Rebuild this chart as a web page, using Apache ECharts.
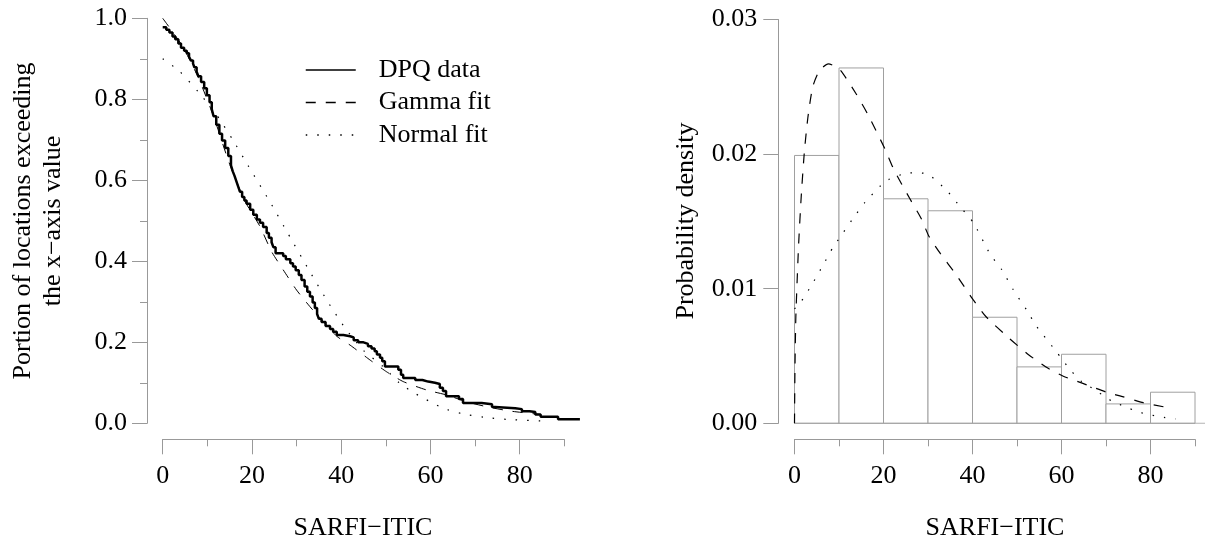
<!DOCTYPE html>
<html><head><meta charset="utf-8">
<script src="https://cdn.jsdelivr.net/npm/echarts@6/dist/echarts.min.js"></script>
<style>html,body{margin:0;padding:0;background:#fff}#c{width:1205px;height:550px}</style>
</head><body><div id="c"></div>
<script>
// ---------- data ----------
const xLabelTicks = [0, 20, 40, 60, 80];

// Left panel: empirical exceedance (step) and fitted survival curves
const dpqX = [0,0.8,1.5,2.2,2.8,3.5,4.1,4.8,5.4,5.9,6.3,6.8,7.1,7.6,8.0,8.6,9.3,9.9,10.5,11.0,11.4,12.0,12.7,13.3,14.0,14.7,15.3,15.7,16.1,16.5,16.9,17.3,17.8,18.3,18.8,19.6,20.3,21.1,21.8,22.5,23.3,23.8,24.4,24.8,25.3,27.0,27.6,28.6,29.2,29.8,30.5,31.1,31.8,32.4,33.0,33.6,34.1,34.6,35.0,35.6,36.5,37.5,38.2,39.0,40.5,42.0,42.8,43.8,45.0,46.0,46.8,47.5,48.0,48.7,49.2,49.8,52.8,53.4,53.9,56.6,58.2,59.5,61.0,62.1,62.8,63.5,66.4,67.3,71.5,73.8,74.5,79.0,80.5,82.2,83.5,84.7,88.6,93.5];
const dpqY = [0.978,0.972,0.965,0.955,0.948,0.938,0.927,0.92,0.914,0.905,0.896,0.888,0.879,0.868,0.857,0.843,0.827,0.81,0.793,0.775,0.758,0.737,0.715,0.698,0.68,0.66,0.637,0.622,0.611,0.598,0.585,0.572,0.559,0.55,0.542,0.527,0.515,0.503,0.495,0.485,0.47,0.458,0.447,0.435,0.42,0.413,0.405,0.395,0.387,0.378,0.366,0.354,0.338,0.325,0.313,0.298,0.285,0.27,0.258,0.25,0.24,0.233,0.226,0.218,0.215,0.212,0.205,0.2,0.196,0.19,0.185,0.178,0.17,0.162,0.153,0.14,0.132,0.12,0.112,0.107,0.103,0.1,0.097,0.088,0.08,0.067,0.06,0.05,0.047,0.04,0.037,0.035,0.03,0.028,0.022,0.016,0.01,0.01];

const gammaSurvX = [0,2,4.5,8,11.4,14.8,18.3,21.8,24.4,27,30,33,36,39,42,46.5,50.2,53.9,59.2,63.6,68.1,73,78,84.5];
const gammaSurvY = [1.0,0.97,0.93,0.853,0.758,0.646,0.551,0.486,0.424,0.379,0.329,0.288,0.251,0.215,0.193,0.156,0.127,0.103,0.082,0.07,0.053,0.04,0.03,0.022];

const normalSurvX = [0,3.7,8,12.3,15.7,19.1,24.4,28,33,37,40.9,45,49.4,53,56.5,62.9,67,71.9,78,84.6];
const normalSurvY = [0.90,0.87,0.818,0.758,0.70,0.637,0.54,0.47,0.374,0.30,0.235,0.18,0.14,0.10,0.074,0.037,0.024,0.015,0.009,0.006];

// Right panel: histogram (density) and fitted densities
const binStart = [0,10,20,30,40,50,60,70,80];
const binEnd   = [10,20,30,40,50,60,70,80,90];
const density  = [0.0199,0.0264,0.01668,0.01579,0.00788,0.00419,0.00513,0.00144,0.00231];

const gammaPdfX = [0,0.1,0.3,0.9,1.5,2.2,3.0,4.1,5.6,7.6,8.6,10.4,13.8,16.4,20.3,22.4,25.9,28.5,30.2,32.8,36.2,40.1,43.1,48.3,52.6,56.9,60.4,64.5,70.2,73.5,78.4,82.9,84.5];
const gammaPdfY = [0,0.004,0.0079,0.0131,0.0168,0.0201,0.0227,0.0250,0.0262,0.0267,0.0266,0.0262,0.0245,0.0230,0.0204,0.0188,0.0167,0.0152,0.0139,0.0126,0.0111,0.0092,0.0079,0.0063,0.0051,0.0041,0.0035,0.0030,0.0023,0.0020,0.00153,0.00123,0.00116];

const normalPdfX = [0,1.2,3.9,6.5,8.7,10.2,12.9,15.8,19.2,21.1,25.6,28,30.1,34.2,37.2,40.2,43.9,46.6,49.2,52.2,54.4,58.9,61.9,64.5,67.6,69.5,71.6,73.9,76.1,78.4,80.9,83.3,85.7];
const normalPdfY = [0.0085,0.0089,0.0103,0.0118,0.0131,0.0138,0.0151,0.0164,0.0176,0.0181,0.0186,0.0186,0.0185,0.0173,0.0161,0.0149,0.0126,0.0114,0.0099,0.0084,0.0072,0.0053,0.0040,0.0031,0.00248,0.00203,0.0016,0.00129,0.00099,0.00074,0.00057,0.00042,0.00032];

// ---------- chart ----------
const FONT = "'Liberation Serif', 'Times New Roman', serif";
const AX = '#999999';
const BAR = '#a0a0a0';
const zip = (a, b) => a.map((v, i) => [v, b[i]]);

// pixel geometry of the two panels
const L = { x0: 162.7, x90: 564.3, top: 18.3, bottom: 423.3 };
const R = { x0: 794.5, x90: 1195, top: 19.5, bottom: 423.3 };
const pxPerUnitL = (L.x90 - L.x0) / 90;
const pxPerUnitR = (R.x90 - R.x0) / 90;

function xAxes(g) {
  return [
    { gridIndex: g, type: 'value', min: 0, max: 90, interval: 10, position: 'bottom', offset: 16,
      axisLine: { show: true, onZero: false, lineStyle: { color: AX, width: 1 } },
      axisTick: { show: true, length: 7, lineStyle: { color: AX, width: 1 } },
      axisLabel: { show: false }, splitLine: { show: false } },
    { gridIndex: g, type: 'value', min: 0, max: 90, position: 'bottom', offset: 16,
      axisLine: { show: false, onZero: false },
      axisTick: { show: true, length: 15, customValues: xLabelTicks, lineStyle: { color: AX, width: 1 } },
      axisLabel: { show: true, customValues: xLabelTicks, margin: 24, color: '#000', fontFamily: FONT, fontSize: 26 },
      splitLine: { show: false } }
  ];
}
const hiddenAxis = (g, max) => ({ gridIndex: g, type: 'value', min: 0, max: max, show: false });

const option = {
  backgroundColor: '#fff',
  animation: false,
  grid: [
    { left: L.x0, right: 1205 - L.x90, top: L.top, bottom: 550 - L.bottom },
    { left: R.x0, right: 1205 - R.x90, top: R.top, bottom: 550 - R.bottom },
    // wider companion grids (same scale) so marks may run past x = 90
    { left: L.x0, width: pxPerUnitL * 100, top: L.top, bottom: 550 - L.bottom },
    { left: R.x0, width: pxPerUnitR * 100, top: R.top, bottom: 550 - R.bottom }
  ],
  xAxis: [...xAxes(0), ...xAxes(1), hiddenAxis(2, 100), hiddenAxis(3, 100)],
  yAxis: [
    { gridIndex: 0, type: 'value', min: 0, max: 1, interval: 0.2, offset: 15.7,
      axisLine: { show: true, onZero: false, lineStyle: { color: AX, width: 1 } },
      axisTick: { show: true, length: 15, lineStyle: { color: AX, width: 1 } },
      minorTick: { show: true, splitNumber: 2, length: 7, lineStyle: { color: AX, width: 1 } },
      axisLabel: { margin: 20, color: '#000', fontFamily: FONT, fontSize: 26, formatter: v => v.toFixed(1) },
      splitLine: { show: false }, minorSplitLine: { show: false } },
    { gridIndex: 1, type: 'value', min: 0, max: 0.03, interval: 0.01, offset: 16.2,
      axisLine: { show: true, onZero: false, lineStyle: { color: AX, width: 1 } },
      axisTick: { show: true, length: 15, lineStyle: { color: AX, width: 1 } },
      axisLabel: { margin: 21, color: '#000', fontFamily: FONT, fontSize: 26, formatter: v => v.toFixed(2) },
      splitLine: { show: false } },
    hiddenAxis(2, 1),
    hiddenAxis(3, 0.03)
  ],
  legend: {
    data: [
      { name: 'DPQ data', lineStyle: { width: 1.5 } },
      { name: 'Gamma fit', lineStyle: { width: 1.3 } },
      { name: 'Normal fit', lineStyle: { width: 1.5 } }
    ],
    orient: 'vertical', left: 300, top: 52, itemWidth: 50, itemHeight: 14, itemGap: 6.5,
    selectedMode: false,
    itemStyle: { opacity: 0, borderWidth: 0 },
    textStyle: { fontFamily: FONT, fontSize: 26, color: '#000', lineHeight: 26, padding: [0, 0, 0, 18] }
  },
  graphic: [
    { type: 'text', x: 38, y: 221, rotation: Math.PI / 2,
      style: { text: 'Portion of locations exceeding\nthe x\u2212axis value', font: '26px ' + FONT, fill: '#000',
               textAlign: 'center', textVerticalAlign: 'middle', lineHeight: 30 } },
    { type: 'text', x: 686, y: 221, rotation: Math.PI / 2,
      style: { text: 'Probability density', font: '26px ' + FONT, fill: '#000',
               textAlign: 'center', textVerticalAlign: 'middle' } },
    { type: 'text', x: 363, y: 528,
      style: { text: 'SARFI\u2212ITIC', font: '26px ' + FONT, fill: '#000', textAlign: 'center', textVerticalAlign: 'middle' } },
    { type: 'text', x: 995, y: 528,
      style: { text: 'SARFI\u2212ITIC', font: '26px ' + FONT, fill: '#000', textAlign: 'center', textVerticalAlign: 'middle' } }
  ],
  series: [
    { name: 'DPQ data', type: 'line', xAxisIndex: 4, yAxisIndex: 2, step: 'end', symbol: 'none',
      data: zip(dpqX, dpqY), lineStyle: { color: '#000', width: 2.5 }, itemStyle: { color: '#000' }, z: 4 },
    { name: 'Gamma fit', type: 'line', xAxisIndex: 0, yAxisIndex: 0, symbol: 'none', smooth: 0.2,
      data: zip(gammaSurvX, gammaSurvY), lineStyle: { color: '#000', width: 1, type: [10, 10] }, itemStyle: { color: '#000' }, z: 3 },
    { name: 'Normal fit', type: 'line', xAxisIndex: 0, yAxisIndex: 0, symbol: 'none', smooth: 0.2,
      data: zip(normalSurvX, normalSurvY), lineStyle: { color: '#000', width: 1.2, type: [1.5, 10] }, itemStyle: { color: '#000' }, z: 3 },

    { name: 'Histogram', type: 'custom', xAxisIndex: 2, yAxisIndex: 1,
      data: binStart.map((s, i) => [s, binEnd[i], density[i]]),
      encode: { x: [0, 1], y: 2 },
      renderItem: (params, api) => {
        const p0 = api.coord([api.value(0), api.value(2)]);
        const p1 = api.coord([api.value(1), 0]);
        return { type: 'rect', shape: { x: p0[0], y: p0[1], width: p1[0] - p0[0], height: p1[1] - p0[1] },
                 style: { fill: '#fff', stroke: BAR, lineWidth: 1 } };
      }, z: 2 },
    { name: 'Baseline', type: 'line', xAxisIndex: 5, yAxisIndex: 3, symbol: 'none',
      data: [[0, 0], [100, 0]], lineStyle: { color: BAR, width: 1 }, z: 2 },
    { name: 'Gamma density', type: 'line', xAxisIndex: 2, yAxisIndex: 1, symbol: 'none', smooth: 0.2,
      data: zip(gammaPdfX, gammaPdfY), lineStyle: { color: '#000', width: 1.2, type: [10, 10] }, z: 3 },
    { name: 'Normal density', type: 'line', xAxisIndex: 2, yAxisIndex: 1, symbol: 'none', smooth: 0.2,
      data: zip(normalPdfX, normalPdfY), lineStyle: { color: '#000', width: 1.2, type: [1.5, 10] }, z: 3 }
  ]
};

const chart = echarts.init(document.getElementById('c'), null, { renderer: 'canvas' });
chart.setOption(option);
</script>
</body></html>
